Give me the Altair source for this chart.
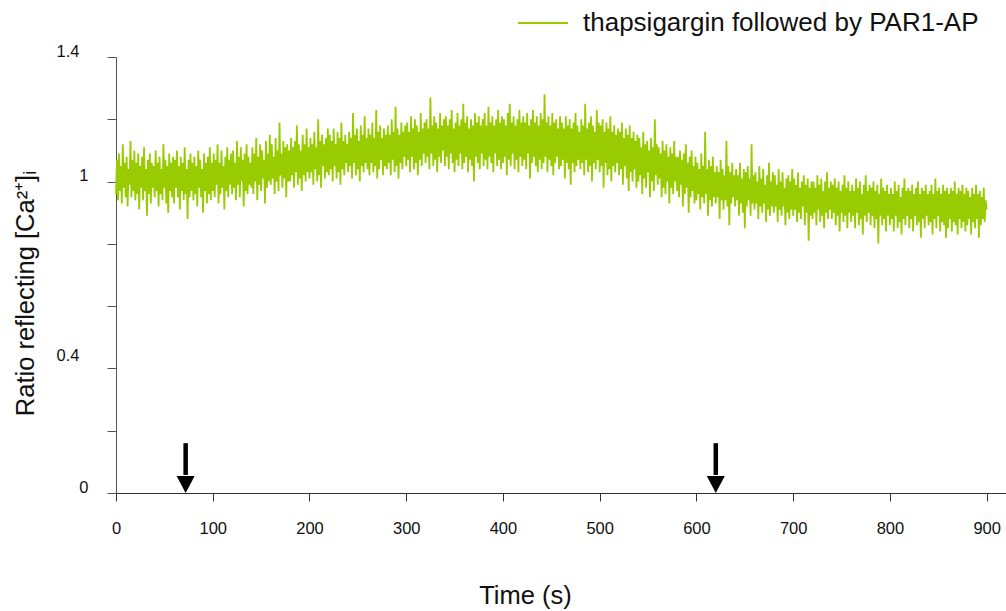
import altair as alt
import pandas as pd

series_name = "thapsigargin followed by PAR1-AP"
time_step = 1  # seconds between samples, starting at 0 s

ratio = [
    0.96, 1.07, 0.94, 1.09, 0.97, 1.05, 0.93, 1.12, 0.98, 1.06, 0.95, 1.08, 0.92, 1.04, 0.99, 1.13, 0.95, 1.07, 0.97, 1.10,
    0.94, 1.06, 0.96, 1.09, 0.91, 1.05, 0.98, 1.08, 0.94, 1.11, 0.97, 1.04, 0.89, 1.07, 0.96, 1.09, 0.93, 1.06, 0.98, 1.05,
    0.95, 1.10, 0.97, 1.06, 0.92, 1.08, 0.96, 1.04, 0.94, 1.12, 0.98, 1.07, 0.93, 1.05, 0.90, 1.09, 0.97, 1.06, 0.95, 1.08,
    0.93, 1.07, 0.98, 1.10, 0.95, 1.05, 0.91, 1.08, 0.97, 1.06, 0.94, 1.11, 0.96, 1.04, 0.88, 1.07, 0.95, 1.09, 0.97, 1.06,
    0.94, 1.08, 0.96, 1.05, 0.92, 1.10, 0.98, 1.07, 0.95, 1.04, 0.90, 1.09, 0.97, 1.06, 0.93, 1.08, 0.96, 1.11, 0.94, 1.06,
    0.97, 1.09, 0.95, 1.07, 0.99, 1.12, 0.93, 1.06, 0.96, 1.10, 0.98, 1.05, 0.91, 1.08, 0.97, 1.11, 0.95, 1.07, 0.99, 1.09,
    0.96, 1.10, 0.98, 1.06, 0.94, 1.13, 0.99, 1.08, 0.95, 1.11, 1.00, 1.07, 0.92, 1.09, 0.97, 1.12, 0.96, 1.08, 0.99, 1.06,
    0.98, 1.11, 0.96, 1.09, 1.00, 1.14, 0.94, 1.08, 0.99, 1.12, 0.97, 1.10, 1.01, 1.07, 0.93, 1.13, 0.98, 1.09, 1.00, 1.15,
    0.99, 1.12, 1.01, 1.08, 0.96, 1.14, 1.00, 1.10, 0.97, 1.19, 1.02, 1.09, 0.98, 1.13, 1.01, 1.11, 0.95, 1.12, 1.00, 1.10,
    1.00, 1.14, 1.02, 1.11, 0.98, 1.13, 1.03, 1.18, 0.99, 1.12, 1.01, 1.10, 0.97, 1.15, 1.02, 1.12, 1.00, 1.17, 1.03, 1.11,
    1.01, 1.14, 1.03, 1.12, 0.99, 1.16, 1.04, 1.11, 1.00, 1.20, 1.02, 1.13, 0.98, 1.15, 1.05, 1.12, 1.01, 1.14, 1.03, 1.17,
    1.02, 1.15, 1.04, 1.13, 1.00, 1.17, 1.05, 1.12, 1.01, 1.16, 1.03, 1.14, 0.99, 1.19, 1.04, 1.13, 1.02, 1.15, 1.06, 1.12,
    1.03, 1.16, 1.05, 1.14, 1.01, 1.22, 1.06, 1.15, 1.02, 1.17, 1.04, 1.13, 1.00, 1.18, 1.05, 1.15, 1.03, 1.21, 1.06, 1.14,
    1.04, 1.17, 1.02, 1.15, 1.06, 1.19, 1.03, 1.14, 1.05, 1.23, 1.01, 1.16, 1.04, 1.18, 1.07, 1.14, 1.02, 1.17, 1.05, 1.15,
    1.04, 1.18, 1.06, 1.15, 1.02, 1.20, 1.07, 1.16, 1.03, 1.24, 1.05, 1.17, 1.01, 1.15, 1.06, 1.19, 1.04, 1.16, 1.08, 1.18,
    1.05, 1.19, 1.07, 1.16, 1.03, 1.21, 1.08, 1.17, 1.04, 1.20, 1.06, 1.18, 1.02, 1.16, 1.07, 1.22, 1.05, 1.17, 1.09, 1.19,
    1.06, 1.20, 1.08, 1.17, 1.04, 1.27, 1.09, 1.18, 1.05, 1.21, 1.07, 1.19, 1.03, 1.17, 1.08, 1.22, 1.06, 1.18, 1.10, 1.20,
    1.05, 1.21, 1.08, 1.18, 1.04, 1.20, 1.09, 1.23, 1.06, 1.17, 1.03, 1.19, 1.07, 1.22, 1.05, 1.18, 1.09, 1.20, 1.04, 1.25,
    1.06, 1.19, 1.08, 1.21, 1.03, 1.17, 1.07, 1.20, 1.05, 1.18, 1.00, 1.22, 1.08, 1.19, 1.06, 1.21, 1.04, 1.18, 1.09, 1.20,
    1.05, 1.22, 1.07, 1.18, 1.04, 1.24, 1.08, 1.19, 1.06, 1.21, 1.03, 1.18, 1.09, 1.20, 1.05, 1.23, 1.07, 1.19, 1.04, 1.21,
    1.06, 1.20, 1.08, 1.18, 1.02, 1.22, 1.07, 1.25, 1.05, 1.19, 1.09, 1.21, 1.04, 1.18, 1.07, 1.20, 1.03, 1.23, 1.08, 1.19,
    1.05, 1.21, 1.07, 1.19, 1.04, 1.22, 1.09, 1.18, 1.01, 1.20, 1.06, 1.23, 1.08, 1.19, 1.05, 1.21, 1.03, 1.18, 1.07, 1.22,
    1.04, 1.20, 1.06, 1.28, 1.08, 1.19, 1.03, 1.21, 1.07, 1.18, 1.05, 1.22, 1.02, 1.19, 1.06, 1.20, 1.08, 1.17, 1.04, 1.21,
    1.05, 1.19, 1.07, 1.17, 1.01, 1.21, 1.06, 1.18, 1.04, 1.20, 0.99, 1.17, 1.06, 1.19, 1.03, 1.22, 1.05, 1.18, 1.07, 1.16,
    1.04, 1.20, 1.06, 1.18, 1.02, 1.25, 1.07, 1.17, 1.03, 1.19, 1.05, 1.21, 1.00, 1.18, 1.06, 1.16, 1.04, 1.23, 1.07, 1.19,
    1.03, 1.18, 1.05, 1.20, 0.98, 1.16, 1.06, 1.19, 1.02, 1.17, 1.04, 1.21, 1.00, 1.16, 1.05, 1.18, 1.03, 1.15, 1.06, 1.17,
    1.02, 1.16, 1.04, 1.19, 0.99, 1.14, 1.05, 1.17, 1.01, 1.15, 0.97, 1.18, 1.03, 1.14, 1.00, 1.16, 1.04, 1.13, 0.98, 1.15,
    1.00, 1.14, 1.02, 1.11, 0.96, 1.16, 1.01, 1.12, 0.98, 1.13, 1.03, 1.10, 0.95, 1.14, 1.00, 1.11, 0.97, 1.20, 1.02, 1.12,
    0.99, 1.11, 1.01, 1.09, 0.95, 1.13, 0.98, 1.10, 0.96, 1.12, 1.00, 1.08, 0.93, 1.11, 0.98, 1.09, 0.96, 1.13, 1.00, 1.08,
    0.97, 1.08, 0.95, 1.10, 0.99, 1.07, 0.92, 1.09, 0.96, 1.12, 0.98, 1.06, 0.90, 1.08, 0.95, 1.10, 0.97, 1.05, 0.93, 1.08,
    0.94, 1.06, 0.96, 1.04, 0.91, 1.09, 0.95, 1.05, 0.93, 1.16, 0.96, 1.04, 0.89, 1.07, 0.94, 1.05, 0.92, 1.08, 0.95, 1.03,
    0.93, 1.05, 0.95, 1.03, 0.88, 1.07, 0.94, 1.04, 0.91, 1.02, 0.94, 1.13, 0.92, 1.05, 0.86, 1.03, 0.93, 1.06, 0.95, 1.02,
    0.92, 1.04, 0.94, 1.02, 0.89, 1.06, 0.93, 1.01, 0.90, 1.04, 0.85, 1.03, 0.92, 1.05, 0.94, 1.01, 0.89, 1.12, 0.93, 1.02,
    0.91, 1.03, 0.93, 1.00, 0.88, 1.05, 0.92, 1.01, 0.90, 1.04, 0.93, 0.99, 0.87, 1.02, 0.91, 1.06, 0.89, 1.00, 0.92, 1.03,
    0.90, 1.02, 0.92, 0.99, 0.87, 1.04, 0.91, 1.00, 0.89, 1.03, 0.92, 0.98, 0.86, 1.01, 0.90, 1.02, 0.88, 1.00, 0.91, 1.04,
    0.89, 1.01, 0.91, 0.99, 0.87, 1.03, 0.90, 0.98, 0.88, 1.00, 0.92, 1.02, 0.86, 0.99, 0.90, 1.01, 0.81, 0.98, 0.89, 1.00,
    0.88, 1.00, 0.90, 0.98, 0.86, 1.02, 0.91, 0.99, 0.87, 1.01, 0.89, 0.97, 0.85, 1.00, 0.90, 1.03, 0.88, 0.98, 0.91, 1.00,
    0.88, 0.99, 0.90, 1.01, 0.86, 0.98, 0.89, 1.00, 0.84, 0.97, 0.90, 0.99, 0.87, 1.02, 0.89, 0.98, 0.85, 1.00, 0.90, 0.97,
    0.87, 0.99, 0.89, 0.97, 0.85, 1.01, 0.90, 0.98, 0.86, 1.00, 0.88, 0.96, 0.83, 0.99, 0.89, 1.02, 0.87, 0.97, 0.90, 0.99,
    0.86, 0.98, 0.89, 1.00, 0.85, 0.97, 0.88, 0.99, 0.80, 0.96, 0.89, 1.01, 0.86, 0.98, 0.88, 0.97, 0.84, 0.99, 0.89, 0.96,
    0.86, 0.98, 0.88, 0.96, 0.84, 1.00, 0.89, 0.97, 0.85, 0.99, 0.87, 0.95, 0.83, 0.98, 0.88, 1.01, 0.86, 0.97, 0.89, 0.98,
    0.85, 0.97, 0.88, 0.99, 0.84, 0.96, 0.89, 0.98, 0.86, 1.00, 0.87, 0.96, 0.82, 0.98, 0.88, 0.97, 0.85, 0.99, 0.89, 0.96,
    0.86, 0.97, 0.87, 0.99, 0.83, 0.96, 0.88, 1.01, 0.85, 0.97, 0.89, 0.98, 0.84, 0.96, 0.87, 0.99, 0.86, 0.97, 0.82, 0.98,
    0.85, 0.96, 0.88, 0.98, 0.84, 0.97, 0.87, 1.00, 0.86, 0.96, 0.83, 0.98, 0.88, 0.97, 0.85, 0.99, 0.87, 0.96, 0.84, 0.98,
    0.86, 0.97, 0.88, 0.95, 0.83, 0.98, 0.87, 0.96, 0.85, 0.99, 0.88, 0.96, 0.82, 0.97, 0.86, 0.95, 0.88, 0.98, 0.87, 0.94,
    0.91,
]
times = [i * time_step for i in range(len(ratio))]

arrow_times = [72, 620]          # stimulus additions (s)
arrow_top = 0.16
arrow_neck = 0.058
arrow_tip = 0.0

x_ticks = [0, 100, 200, 300, 400, 500, 600, 700, 800, 900]
y_ticks = [0, 0.2, 0.4, 0.6, 0.8, 1.0, 1.2, 1.4]

FONT = "Liberation Sans"
GREEN = "#99cc00"

df = pd.DataFrame({"time": times, "ratio": ratio, "series": series_name})
arrows = pd.DataFrame({
    "time": arrow_times,
    "top": [arrow_top] * len(arrow_times),
    "neck": [arrow_neck] * len(arrow_times),
    "tip": [arrow_tip] * len(arrow_times),
})

x_scale = alt.Scale(domain=[0, 920], nice=False, zero=False)
y_scale = alt.Scale(domain=[0, 1.4], nice=False)

x_axis = alt.Axis(
    values=x_ticks, grid=False, domainColor="#333", tickColor="#333",
    tickSize=8, labelFont=FONT, labelFontSize=16.5, labelColor="#111",
    labelPadding=19, labelFlush=False,
    title="Time (s)", titleFont=FONT, titleFontSize=25.5, titleFontWeight="normal",
    titleColor="#111", titleX=409, titleY=110, titleAlign="center",
    titleBaseline="alphabetic",
)
y_axis = alt.Axis(
    values=y_ticks, grid=False, domainColor="#555", tickColor="#555",
    tickSize=9, labelFont=FONT, labelFontSize=16.5, labelColor="#111",
    format="~g",
    labelExpr="abs(datum.value-0)<0.01 || abs(datum.value-0.4)<0.01 || abs(datum.value-1)<0.01 || abs(datum.value-1.4)<0.01 ? datum.label : ''",
    labelBaseline="middle",
    labelPadding={"condition": {"test": "abs(datum.value-0.4)<0.01 || abs(datum.value-1.4)<0.01", "value": 28}, "value": 19},
    labelOffset={"condition": {"test": "abs(datum.value-0.4)<0.01", "value": -13}, "value": -6},
    labelFlush=False,
    title="Ratio reflecting [Ca²⁺]ᵢ", titleFont=FONT, titleFontSize=25.5,
    titleFontWeight="normal", titleColor="#111", titleAngle=270,
    titleX=-83, titleY=236, titleAlign="center", titleBaseline="alphabetic",
)

line = alt.Chart(df).mark_line(strokeWidth=1.8).encode(
    x=alt.X("time:Q", scale=x_scale, axis=x_axis),
    y=alt.Y("ratio:Q", scale=y_scale, axis=y_axis),
    color=alt.Color(
        "series:N",
        scale=alt.Scale(range=[GREEN]),
        legend=alt.Legend(
            title=None, orient="none", legendX=401, legendY=-60,
            symbolType="stroke", symbolSize=2500, symbolStrokeWidth=2,
            labelFont=FONT, labelFontSize=26, labelColor="#111",
            labelOffset=14, padding=0, labelLimit=600,
        ),
    ),
)

shaft = alt.Chart(arrows).mark_rule(color="black", strokeWidth=4.5, strokeCap="butt").encode(
    x=alt.X("time:Q", scale=x_scale),
    y=alt.Y("top:Q", scale=y_scale),
    y2="neck:Q",
)
head = alt.Chart(arrows).mark_point(
    shape="M-1,-1.9L1,-1.9L0,0Z", size=324, filled=True, color="black", opacity=1
).encode(
    x=alt.X("time:Q", scale=x_scale),
    y=alt.Y("tip:Q", scale=y_scale),
)

chart = alt.layer(line, shaft, head).properties(
    width=890, height=436,
    padding={"left": 116, "top": 57, "right": 0, "bottom": 118},
    autosize=alt.AutoSizeParams(type="none"),
    background="white",
).configure_view(stroke=None)

chart.save("out.html", embed_options={"renderer": "svg", "actions": False})
